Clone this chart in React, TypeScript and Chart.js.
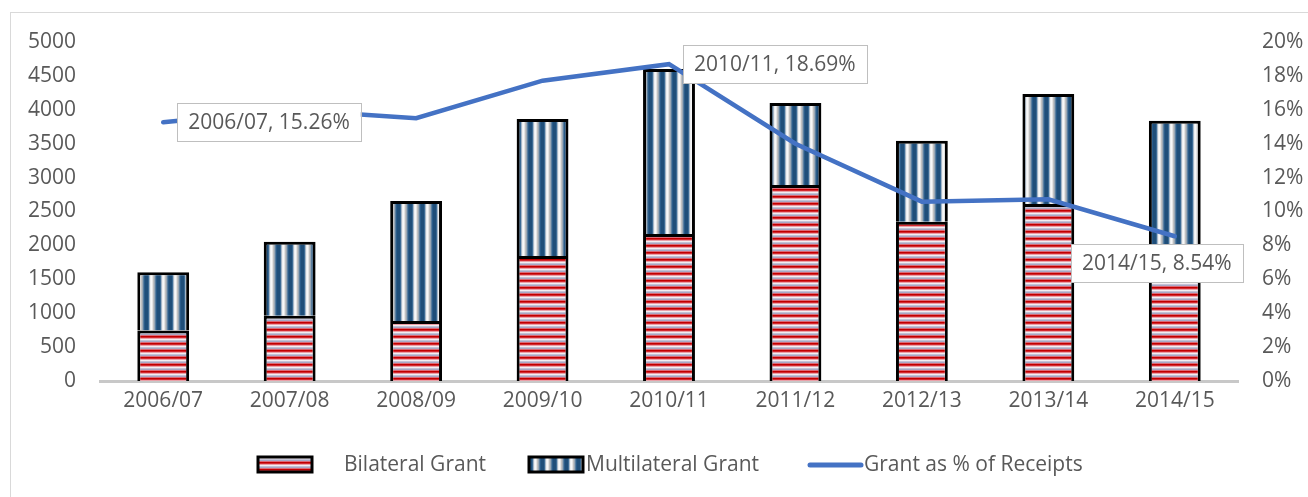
import React, { useEffect, useRef } from 'react';
import { Chart, registerables } from 'chart.js';

Chart.register(...registerables);

const categories = ['2006/07', '2007/08', '2008/09', '2009/10', '2010/11', '2011/12', '2012/13', '2013/14', '2014/15'];
const bilateralGrant = [745, 963, 885, 1844, 2168, 2890, 2350, 2610, 1750];
const multilateralGrant = [858, 1092, 1770, 2021, 2434, 1210, 1195, 1623, 2090];
const grantPctOfReceipts = [15.26, 16.0, 15.5, 17.72, 18.69, 14.0, 10.58, 10.72, 8.54];
const leftTicks = { min: 0, max: 5000, step: 500 };
const rightTicks = { min: 0, max: 20, step: 2 };
const labelledPoints = [0, 4, 8];

const FONT = '"Open Sans", "Noto Sans", sans-serif';
const FS = 21;
const TEXT = '#595959';

const bilateralStripes = ['#c00000', '#d42a30', '#eaa0a8', '#f4eef2', '#c4c2d6', '#a8a8c4', '#dc6a76'];
const multilateralStripes = ['#2a5c8a', '#1f4e79', '#1f4e79', '#1f4e79', '#3a6a94', '#a4b6c8', '#eceef0', '#f8f8f8', '#e4e4e4', '#c0c0c0', '#9aa8b6', '#5a7e9e'];

function makePattern(target: CanvasRenderingContext2D, colors: string[], vertical: boolean) {
  const c = document.createElement('canvas');
  const n = colors.length;
  c.width = vertical ? n : 1;
  c.height = vertical ? 1 : n;
  const ctx = c.getContext('2d')!;
  colors.forEach((col, i) => {
    ctx.fillStyle = col;
    if (vertical) ctx.fillRect(i, 0, 1, 1);
    else ctx.fillRect(0, i, 1, 1);
  });
  return target.createPattern(c, 'repeat')!;
}

export default function App() {
  const ref = useRef<HTMLCanvasElement | null>(null);

  useEffect(() => {
    const canvas = ref.current!;
    const ctx0 = canvas.getContext('2d')!;
    const bilPattern = makePattern(ctx0, bilateralStripes, false);
    const mulPattern = makePattern(ctx0, multilateralStripes, true);

    const labelPlugin = {
      id: 'pointLabels',
      afterDatasetsDraw(chart: any) {
        const ctx: CanvasRenderingContext2D = chart.ctx;
        const meta = chart.getDatasetMeta(2);
        ctx.save();
        ctx.font = `${FS}px ${FONT}`;
        labelledPoints.forEach((i) => {
          const pt = meta.data[i];
          const text = `${categories[i]}, ${grantPctOfReceipts[i].toFixed(2)}%`;
          const tw = ctx.measureText(text).width;
          const w = tw + 22;
          const h = 38;
          let x: number;
          let y: number;
          if (i === labelledPoints[labelledPoints.length - 1]) {
            x = pt.x - 18 - w / 2;
            y = pt.y + 8;
          } else {
            x = pt.x + 14;
            y = pt.y - h / 2;
          }
          ctx.fillStyle = '#ffffff';
          ctx.fillRect(x, y, w, h);
          ctx.strokeStyle = '#bfbfbf';
          ctx.lineWidth = 1;
          ctx.strokeRect(Math.round(x) + 0.5, Math.round(y) + 0.5, Math.round(w), Math.round(h));
          ctx.fillStyle = TEXT;
          ctx.textBaseline = 'middle';
          ctx.textAlign = 'center';
          ctx.fillText(text, x + w / 2, y + h / 2 + 1);
        });
        ctx.restore();
      },
      afterDraw(chart: any) {
        const ctx: CanvasRenderingContext2D = chart.ctx;
        const ca = chart.chartArea;
        const cx = (ca.left + ca.right) / 2;
        const cy = 465;
        ctx.save();
        ctx.font = `${FS}px ${FONT}`;
        ctx.textBaseline = 'middle';
        ctx.textAlign = 'left';
        // Bilateral
        ctx.fillStyle = bilPattern;
        ctx.fillRect(cx - 411, cy - 8, 54, 15);
        ctx.strokeStyle = '#000';
        ctx.lineWidth = 3;
        ctx.strokeRect(cx - 411, cy - 8, 54, 15);
        ctx.fillStyle = TEXT;
        ctx.fillText(chart.data.datasets[0].label, cx - 325, cy);
        // Multilateral
        ctx.fillStyle = mulPattern;
        ctx.fillRect(cx - 140, cy - 8, 54, 15);
        ctx.strokeStyle = '#000';
        ctx.strokeRect(cx - 140, cy - 8, 54, 15);
        ctx.fillStyle = TEXT;
        ctx.fillText(chart.data.datasets[1].label, cx - 83, cy);
        // Line
        ctx.strokeStyle = '#4472c4';
        ctx.lineWidth = 5;
        ctx.lineCap = 'round';
        ctx.beginPath();
        ctx.moveTo(cx + 141, cy);
        ctx.lineTo(cx + 192, cy);
        ctx.stroke();
        ctx.fillStyle = TEXT;
        ctx.fillText(chart.data.datasets[2].label, cx + 195, cy);
        ctx.restore();
      },
    };

    const chart = new Chart(canvas, {
      type: 'bar',
      data: {
        labels: categories,
        datasets: [
          {
            type: 'bar',
            label: 'Bilateral Grant',
            data: bilateralGrant,
            backgroundColor: bilPattern,
            borderColor: '#000000',
            borderWidth: 3,
            borderSkipped: 'start',
            barPercentage: 0.41,
            categoryPercentage: 1,
            yAxisID: 'y',
            order: 2,
          },
          {
            type: 'bar',
            label: 'Multilateral Grant',
            data: multilateralGrant,
            backgroundColor: mulPattern,
            borderColor: '#000000',
            borderWidth: 3,
            borderSkipped: 'start',
            barPercentage: 0.41,
            categoryPercentage: 1,
            yAxisID: 'y',
            order: 2,
          },
          {
            type: 'line',
            label: 'Grant as % of Receipts',
            data: grantPctOfReceipts,
            borderColor: '#4472c4',
            backgroundColor: '#4472c4',
            borderWidth: 4.5,
            pointRadius: 0,
            tension: 0,
            borderCapStyle: 'round',
            yAxisID: 'y1',
            order: 0,
          } as any,
        ],
      },
      options: {
        responsive: false,
        animation: false,
        layout: { padding: { top: 42, left: 0, right: 0, bottom: 0 } },
        plugins: {
          legend: { display: false },
          tooltip: { enabled: false },
        },
        scales: {
          x: {
            stacked: true,
            grid: { display: false, drawTicks: false },
            border: { display: true, color: '#c8c8c8', width: 3 },
            ticks: { color: TEXT, font: { family: FONT, size: FS }, padding: 7, maxRotation: 0 },
            afterFit: (s: any) => { s.height = 116; },
          },
          y: {
            stacked: true,
            position: 'left',
            min: leftTicks.min,
            max: leftTicks.max,
            grid: { display: false, drawTicks: false },
            border: { display: false },
            ticks: {
              stepSize: leftTicks.step,
              color: TEXT,
              font: { family: FONT, size: FS },
              padding: 24,
              callback: (v: any) => `${v}`,
            },
            afterFit: (s: any) => { s.width = 100; },
          },
          y1: {
            position: 'right',
            min: rightTicks.min,
            max: rightTicks.max,
            grid: { display: false, drawTicks: false },
            border: { display: false },
            ticks: {
              stepSize: rightTicks.step,
              color: TEXT,
              font: { family: FONT, size: FS },
              padding: 24,
              callback: (v: any) => `${v}%`,
            },
            afterFit: (s: any) => { s.width = 70; },
          },
        },
      },
      plugins: [labelPlugin],
    } as any);

    return () => chart.destroy();
  }, []);

  return (
    <div style={{ position: 'absolute', left: 0, top: 0, width: 1308, height: 497, overflow: 'hidden', background: '#fff' }}>
      <div
        style={{
          position: 'absolute',
          left: 10,
          top: 12,
          width: 1400,
          height: 600,
          border: '1px solid #d9d9d9',
          boxSizing: 'border-box',
          pointerEvents: 'none',
        }}
      />
      <canvas ref={ref} width={1308} height={497} style={{ position: 'absolute', left: 0, top: 0, width: 1308, height: 497 }} />
    </div>
  );
}
